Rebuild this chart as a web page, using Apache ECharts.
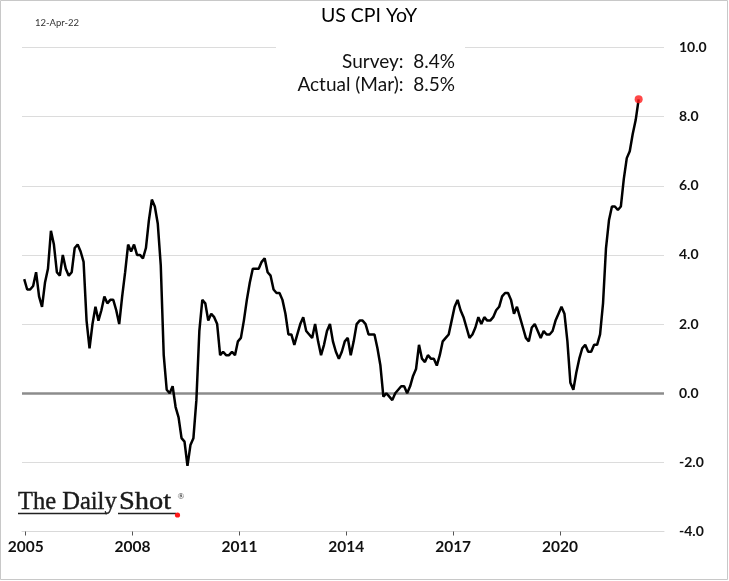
<!DOCTYPE html>
<html>
<head>
<meta charset="utf-8">
<script src="https://cdn.jsdelivr.net/npm/echarts@6/dist/echarts.min.js"></script>
<style>
html,body{margin:0;padding:0;background:#fff;}
#chart{width:729px;height:581px;}
</style>
</head>
<body>
<div id="chart"></div>
<script>
// ---- data ----
const titleText = 'US CPI YoY';
const dateText = '12-Apr-22';
const surveyText = 'Survey:  8.4%';
const actualText = 'Actual (Mar):  8.5%';
const logoWords = ['The Daily', 'Shot'];

// monthly series starts Dec 2004
const startYear = 2004;
const startMonth = 12;
const cpiYoY = [
  3.3,
  3.0, 3.0, 3.1, 3.5, 2.8, 2.5, 3.2, 3.6, 4.7, 4.3, 3.5, 3.4,      // 2005
  4.0, 3.6, 3.4, 3.5, 4.2, 4.3, 4.1, 3.8, 2.1, 1.3, 2.0, 2.5,      // 2006
  2.1, 2.4, 2.8, 2.6, 2.7, 2.7, 2.4, 2.0, 2.8, 3.5, 4.3, 4.1,      // 2007
  4.3, 4.0, 4.0, 3.9, 4.2, 5.0, 5.6, 5.4, 4.9, 3.7, 1.1, 0.1,      // 2008
  0.0, 0.2, -0.4, -0.7, -1.3, -1.4, -2.1, -1.5, -1.3, -0.2, 1.8, 2.7, // 2009
  2.6, 2.1, 2.3, 2.2, 2.0, 1.1, 1.2, 1.1, 1.1, 1.2, 1.1, 1.5,      // 2010
  1.6, 2.1, 2.7, 3.2, 3.6, 3.6, 3.6, 3.8, 3.9, 3.5, 3.4, 3.0,      // 2011
  2.9, 2.9, 2.7, 2.3, 1.7, 1.7, 1.4, 1.7, 2.0, 2.2, 1.8, 1.7,      // 2012
  1.6, 2.0, 1.5, 1.1, 1.4, 1.8, 2.0, 1.5, 1.2, 1.0, 1.2, 1.5,      // 2013
  1.6, 1.1, 1.5, 2.0, 2.1, 2.1, 2.0, 1.7, 1.7, 1.7, 1.3, 0.8,      // 2014
  -0.1, 0.0, -0.1, -0.2, 0.0, 0.1, 0.2, 0.2, 0.0, 0.2, 0.5, 0.7,   // 2015
  1.4, 1.0, 0.9, 1.1, 1.0, 1.0, 0.8, 1.1, 1.5, 1.6, 1.7, 2.1,      // 2016
  2.5, 2.7, 2.4, 2.2, 1.9, 1.6, 1.7, 1.9, 2.2, 2.0, 2.2, 2.1,      // 2017
  2.1, 2.2, 2.4, 2.5, 2.8, 2.9, 2.9, 2.7, 2.3, 2.5, 2.2, 1.9,      // 2018
  1.6, 1.5, 1.9, 2.0, 1.8, 1.6, 1.8, 1.7, 1.7, 1.8, 2.1, 2.3,      // 2019
  2.5, 2.3, 1.5, 0.3, 0.1, 0.6, 1.0, 1.3, 1.4, 1.2, 1.2, 1.4,      // 2020
  1.4, 1.7, 2.6, 4.2, 5.0, 5.4, 5.4, 5.3, 5.4, 6.2, 6.8, 7.0,      // 2021
  7.5, 7.9, 8.5                                                    // 2022
];
const xTickYears = [2005, 2008, 2011, 2014, 2017, 2020];
const yMin = -4, yMax = 10, yStep = 2;

// ---- build ----
const points = cpiYoY.map((v, i) => [startYear + (startMonth - 1 + i + 0.5) / 12, v]);
const lastPoint = points[points.length - 1];

const FONT = 'Lato';
const chart = echarts.init(document.getElementById('chart'), null, {renderer: 'canvas'});
chart.setOption({
  animation: false,
  backgroundColor: '#fff',
  grid: {left: 22, right: 65, top: 47.5, bottom: 49.5, containLabel: false},
  xAxis: {
    type: 'value',
    min: 2004.896,
    max: 2022.92,
    axisLine: {show: true, onZero: false, lineStyle: {color: '#d9d9d9', width: 1}},
    axisTick: {show: true, customValues: xTickYears, length: 4, lineStyle: {color: '#555', width: 1}},
    axisLabel: {
      show: true, customValues: xTickYears, margin: 7,
      fontFamily: FONT, fontWeight: 'bold', fontSize: 15.5, color: '#111',
      formatter: v => String(Math.round(v))
    },
    splitLine: {show: false}
  },
  yAxis: {
    type: 'value',
    position: 'right',
    min: yMin, max: yMax, interval: yStep,
    axisLine: {show: false},
    axisTick: {show: false},
    axisLabel: {
      margin: 15, align: 'left',
      fontFamily: FONT, fontWeight: 'bold', fontSize: 14, color: '#111',
      formatter: v => v.toFixed(1)
    },
    splitLine: {show: true, lineStyle: {color: '#dcdcdc', width: 1}}
  },
  series: [
    {
      type: 'line',
      data: points,
      showSymbol: false,
      lineStyle: {color: '#000', width: 2.5},
      z: 5,
      markLine: {
        silent: true, symbol: 'none', label: {show: false},
        lineStyle: {color: '#8c8c8c', width: 2.5, type: 'solid'},
        data: [{yAxis: 0}],
        z: 3
      }
    },
    {
      type: 'scatter',
      data: [lastPoint],
      symbolSize: 8,
      itemStyle: {color: '#ff1a1a'},
      z: 6
    }
  ],
  graphic: [
    {type: 'rect', z: 50, shape: {x: 0.5, y: 0.5, width: 727, height: 579}, style: {fill: 'none', stroke: '#c8c8c8', lineWidth: 1}},
    {type: 'rect', z: 50, shape: {x: 276, y: 40, width: 189, height: 62}, style: {fill: '#fff'}},
    {type: 'text', z: 60, x: 369, y: 16, style: {text: titleText, font: '19.5px Lato', fill: '#000', textAlign: 'center', textVerticalAlign: 'middle'}},
    {type: 'text', z: 60, x: 35, y: 23, style: {text: dateText, font: '9.5px Lato', fill: '#333', textAlign: 'left', textVerticalAlign: 'middle'}},
    {type: 'text', z: 60, x: 455, y: 61.5, style: {text: surveyText, font: '19px Lato', fill: '#111', textAlign: 'right', textVerticalAlign: 'middle'}},
    {type: 'text', z: 60, x: 455, y: 85, style: {text: actualText, font: '19px Lato', fill: '#111', textAlign: 'right', textVerticalAlign: 'middle'}},
    {type: 'text', z: 60, x: 18, y: 502, scaleX: 0.98, style: {text: logoWords[0], font: '25px "Liberation Serif"', fill: '#1a1a1a', stroke: '#1a1a1a', lineWidth: 0.4, textAlign: 'left', textVerticalAlign: 'middle'}},
    {type: 'text', z: 60, x: 119, y: 502, scaleX: 1.14, style: {text: logoWords[1], font: '25px "Liberation Serif"', fill: '#1a1a1a', stroke: '#1a1a1a', lineWidth: 0.4, textAlign: 'left', textVerticalAlign: 'middle'}},
    {type: 'text', z: 60, x: 177.5, y: 497, style: {text: '\u00AE', font: '9px "Liberation Serif"', fill: '#222', textAlign: 'left', textVerticalAlign: 'middle'}},
    {type: 'line', z: 60, shape: {x1: 18, y1: 513.5, x2: 107, y2: 513.5}, style: {stroke: '#222', lineWidth: 1.6}},
    {type: 'line', z: 60, shape: {x1: 118, y1: 513.5, x2: 176, y2: 513.5}, style: {stroke: '#222', lineWidth: 1.6}},
    {type: 'circle', z: 61, shape: {cx: 177.5, cy: 515, r: 2.6}, style: {fill: '#ff1a1a'}}
  ]
});
</script>
</body>
</html>
